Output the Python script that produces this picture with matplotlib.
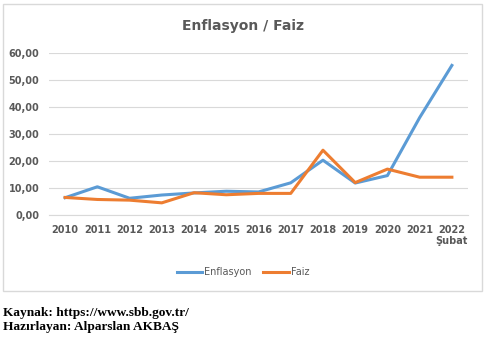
import matplotlib; matplotlib.use('Agg')
import matplotlib.pyplot as plt
from matplotlib.patches import Rectangle

years = ['2010','2011','2012','2013','2014','2015','2016','2017','2018','2019','2020','2021','2022\nŞubat']
enflasyon = [6.4, 10.45, 6.2, 7.4, 8.17, 8.81, 8.53, 11.92, 20.3, 11.84, 14.6, 36.08, 55.4]
faiz = [6.5, 5.75, 5.5, 4.5, 8.25, 7.5, 8.0, 8.0, 24.0, 12.0, 17.0, 14.0, 14.0]
yticks = [0, 10, 20, 30, 40, 50, 60]

W, H = 488, 342
fig = plt.figure(figsize=(W/100, H/100), dpi=100)
fig.patches.append(Rectangle((3/W, 1-291/H), 479/W, 287/H, transform=fig.transFigure,
                             fill=False, edgecolor='#d9d9d9', lw=1))

ax = fig.add_axes([49/W, 1-215/H, 419/W, 162/H])
x = range(len(years))
ax.plot(x, enflasyon, color='#5B9BD5', lw=2.2, label='Enflasyon', solid_joinstyle='round')
ax.plot(x, faiz, color='#ED7D31', lw=2.2, label='Faiz', solid_joinstyle='round')
ax.set_xlim(-0.5, len(years)-0.5)
ax.set_ylim(0, 60)
ax.set_yticks(yticks)
ax.set_yticklabels([f'{v:.2f}'.replace('.', ',') for v in yticks])
ax.set_xticks(list(x))
ax.set_xticklabels(years, linespacing=1.1)
ax.grid(axis='y', color='#d9d9d9', lw=0.8)
ax.set_axisbelow(True)
for s in ['top', 'right', 'left']:
    ax.spines[s].set_visible(False)
ax.spines['bottom'].set_color('#d9d9d9')
ax.tick_params(length=0, labelsize=7, labelcolor='#595959', pad=7)
for lb in ax.get_xticklabels() + ax.get_yticklabels():
    lb.set_fontweight('bold')

fig.text(243/W, 1-26/H, 'Enflasyon / Faiz', ha='center', va='center',
         fontsize=10, fontweight='bold', color='#595959')
fig.legend(loc='center', bbox_to_anchor=(243/W, 1-272/H), ncol=2, frameon=False,
           fontsize=7, handlelength=2.6, columnspacing=1.2, handletextpad=0.2,
           labelcolor='#595959')

fig.text(3/W, 1-313/H, 'Kaynak: https://www.sbb.gov.tr/', ha='left', va='center',
         fontsize=9.6, fontweight='bold', family='Liberation Serif')
fig.text(3/W, 1-327/H, 'Hazırlayan: Alparslan AKBAŞ', ha='left', va='center',
         fontsize=9.6, fontweight='bold', family='Liberation Serif')

fig.savefig('out.png', dpi=100)
